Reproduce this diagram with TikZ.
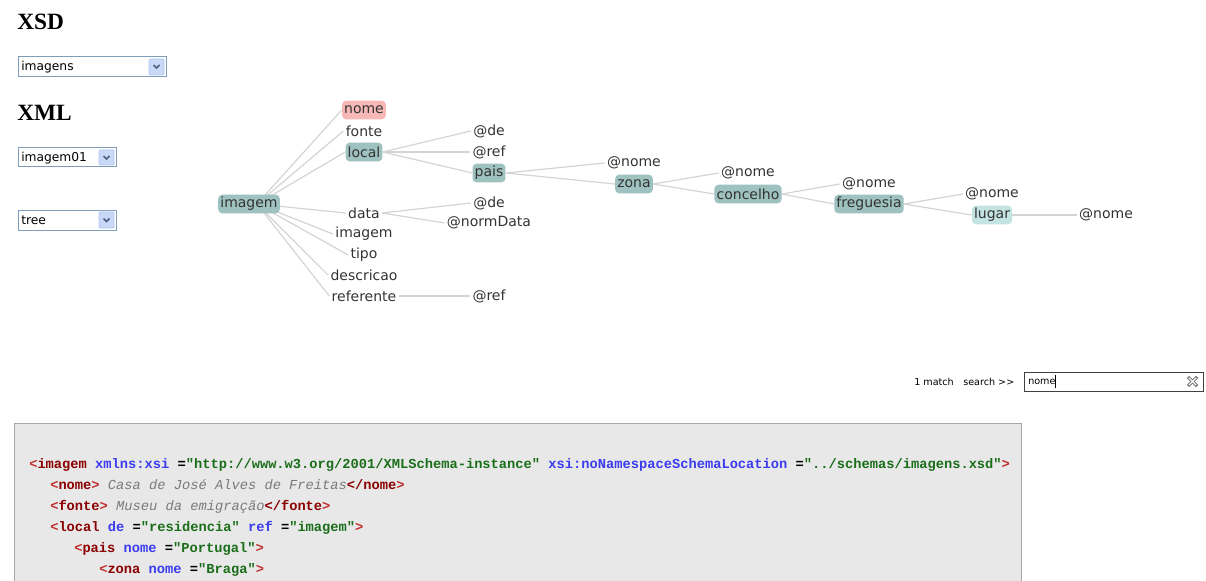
\documentclass[tikz,border=0pt]{standalone}
\usepackage{fontspec}
\setmainfont{DejaVu Sans}[Ligatures=TeXOff]
\newfontfamily\headfont{Liberation Serif}[Ligatures=TeXOff]
\newfontfamily\codefont{Liberation Mono}[Ligatures=TeXOff]
\usetikzlibrary{backgrounds}
\definecolor{tealfill}{HTML}{9EC2BF}
\definecolor{lightfill}{HTML}{C4E4E3}
\definecolor{pinkfill}{HTML}{F7B8B8}
\definecolor{linkgray}{HTML}{D4D4D4}
\definecolor{treetxt}{HTML}{333333}
\definecolor{ddborder}{HTML}{7F9DB9}
\definecolor{btnfill}{HTML}{C9D8F6}
\definecolor{btnborder}{HTML}{B2C6EE}
\definecolor{chevcol}{HTML}{4D6185}
\definecolor{codebg}{HTML}{E8E8E8}
\definecolor{codeborder}{HTML}{A8A8A8}
\definecolor{ctag}{HTML}{8B0000}
\definecolor{cbrk}{HTML}{C03030}
\definecolor{catt}{HTML}{3B3BF0}
\definecolor{cval}{HTML}{1A6E1A}
\definecolor{ctxt}{HTML}{7A7A7A}
\newcommand\xbr[1]{\textcolor{cbrk}{#1}}
\newcommand\xtag[1]{\textcolor{ctag}{#1}}
\newcommand\xatt[1]{\textcolor{catt}{#1}}
\newcommand\xval[1]{\textcolor{cval}{#1}}
\newcommand\xtxt[1]{\textcolor{ctxt}{\mdseries\itshape #1}}
\begin{document}
\begin{tikzpicture}[x=0.75pt,y=-0.75pt,
  tnode/.style={font=\fontsize{10.5}{12}\selectfont, text=treetxt, inner xsep=1.6pt, inner ysep=0pt,
    rounded corners=3pt, minimum height=14pt},
  boxed/.style={tnode, fill=tealfill},
  lightbox/.style={tnode, fill=lightfill},
  pinkbox/.style={tnode, fill=pinkfill},
  link/.style={draw=linkgray, line width=0.9pt},
  head/.style={font=\headfont\bfseries\fontsize{17.5}{20}\selectfont, inner sep=0pt, anchor=base west},
  ddtext/.style={font=\fontsize{9.2}{11}\selectfont, inner sep=0pt, anchor=west},
  ddbox/.style={draw=ddborder, fill=white, line width=0.75pt},
  btn/.style={draw=btnborder, fill=btnfill, line width=0.6pt, rounded corners=0.8pt},
  chev/.style={draw=chevcol, line width=1.3pt},
  small/.style={font=\fontsize{7.2}{9}\selectfont, inner sep=0pt, anchor=west},
  code/.style={font=\codefont\bfseries\fontsize{10.3}{12}\selectfont, inner sep=0pt, anchor=base west}
]
\useasboundingbox (0,0) rectangle (1206,581);

% headings
\node[head] (xsd) at (17,30) {XSD};
\node[head] (xml) at (17,121) {XML};

% dropdown 1
\draw[ddbox] (18,57) rectangle (166,77);
\draw[btn] (149,59) rectangle (164,75);
\draw[chev] (153.5,65) -- (156.5,68) -- (159.5,65);
\node[ddtext] (dd1) at (21,67.5) {imagens};
% dropdown 2
\draw[ddbox] (18,148) rectangle (116,167);
\draw[btn] (99,150) rectangle (114,165);
\draw[chev] (103.5,156) -- (106.5,159) -- (109.5,156);
\node[ddtext] (dd2) at (21,158) {imagem01};
% dropdown 3
\draw[ddbox] (18,210) rectangle (116,230);
\draw[btn] (99,212) rectangle (114,228);
\draw[chev] (103.5,218.5) -- (106.5,221.5) -- (109.5,218.5);
\node[ddtext] (dd3) at (21,220.5) {tree};

% tree nodes
\node[boxed] (root) at (249,204) {imagem};
\node[pinkbox] (nome) at (364,110) {nome};
\node[tnode] (fonte) at (364,131) {fonte};
\node[boxed] (local) at (364,152) {local};
\node[tnode] (data) at (364,213) {data};
\node[tnode] (imagem2) at (364,234) {imagem};
\node[tnode] (tipo) at (364,255) {tipo};
\node[tnode] (descricao) at (364,275) {descricao};
\node[tnode] (referente) at (364,296) {referente};
\node[tnode] (de1) at (489,131) {@de};
\node[tnode] (ref1) at (489,152) {@ref};
\node[boxed] (pais) at (489,173) {pais};
\node[tnode] (de2) at (489,203) {@de};
\node[tnode] (normdata) at (489,223) {@normData};
\node[tnode] (ref2) at (489,296) {@ref};
\node[tnode] (nome1) at (634,163) {@nome};
\node[boxed] (zona) at (634,184) {zona};
\node[tnode] (nome2) at (748,173) {@nome};
\node[boxed] (concelho) at (748,194) {concelho};
\node[tnode] (nome3) at (869,184) {@nome};
\node[boxed] (freguesia) at (869,204) {freguesia};
\node[tnode] (nome4) at (992,194) {@nome};
\node[lightbox] (lugar) at (992,215) {lugar};
\node[tnode] (nome5) at (1106,215) {@nome};

\begin{scope}[on background layer]
  \foreach \c in {nome,fonte,local,data,imagem2,tipo,descricao,referente}
    \draw[link] ([xshift=6pt]root.center) -- (\c.west);
  \draw[link] (local.east) -- (de1.west);
  \draw[link] (local.east) -- (ref1.west);
  \draw[link] (local.east) -- (pais.west);
  \draw[link] (data.east) -- (de2.west);
  \draw[link] (data.east) -- (normdata.west);
  \draw[link] (referente.east) -- (ref2.west);
  \draw[link] (pais.east) -- (nome1.west);
  \draw[link] (pais.east) -- (zona.west);
  \draw[link] (zona.east) -- (nome2.west);
  \draw[link] (zona.east) -- (concelho.west);
  \draw[link] (concelho.east) -- (nome3.west);
  \draw[link] (concelho.east) -- (freguesia.west);
  \draw[link] (freguesia.east) -- (nome4.west);
  \draw[link] (freguesia.east) -- (lugar.west);
  \draw[link] (lugar.east) -- (nome5.west);
\end{scope}

% search
\node[small] (match) at (914,381.5) {1 match};
\node[small] (search) at (963,381.5) {search >>};
\draw[draw=black!75, fill=white, line width=0.7pt] (1024,372) rectangle (1203,391);
\node[small] (query) at (1028,381.5) {nome};
\draw[black, line width=0.5pt] (1055.5,375) -- (1055.5,388);
\draw[black!60, line width=2.2pt] (1188,377) -- (1197,386) (1188,386) -- (1197,377);
\draw[white, line width=0.9pt] (1188.8,377.8) -- (1196.2,385.2) (1188.8,385.2) -- (1196.2,377.8);

% code box
\fill[codebg] (14,423) rectangle (1021,581);
\draw[codeborder, line width=0.75pt] (14,581) -- (14,423) -- (1021,423) -- (1021,581);
\node[code] (l1) at (29,468) {\xbr{<}\xtag{imagem} \xatt{xmlns:xsi} =\xval{"http://www.w3.org/2001/XMLSchema-instance"} \xatt{xsi:noNamespaceSchemaLocation} =\xval{"../schemas/imagens.xsd"}\xbr{>}};
\node[code] (l2) at (50,489) {\xbr{<}\xtag{nome}\xbr{>} \xtxt{Casa de José Alves de Freitas}\xtag{</nome}\xbr{>}};
\node[code] (l3) at (50,510) {\xbr{<}\xtag{fonte}\xbr{>} \xtxt{Museu da emigração}\xtag{</fonte}\xbr{>}};
\node[code] (l4) at (50,531) {\xbr{<}\xtag{local} \xatt{de} =\xval{"residencia"} \xatt{ref} =\xval{"imagem"}\xbr{>}};
\node[code] (l5) at (74,552) {\xbr{<}\xtag{pais} \xatt{nome} =\xval{"Portugal"}\xbr{>}};
\node[code] (l6) at (99,573) {\xbr{<}\xtag{zona} \xatt{nome} =\xval{"Braga"}\xbr{>}};
\end{tikzpicture}
\end{document}
